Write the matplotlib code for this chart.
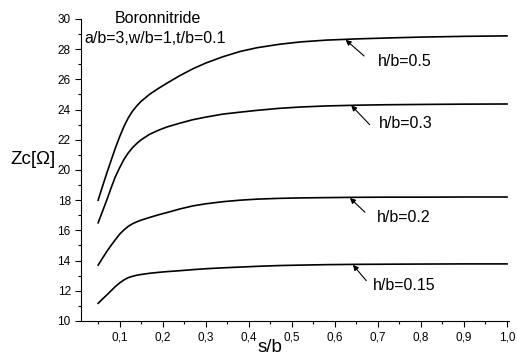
import matplotlib
matplotlib.use("Agg")
import matplotlib.pyplot as plt
from matplotlib.ticker import MultipleLocator, FuncFormatter

plt.rcParams['font.family'] = ['Liberation Sans', 'DejaVu Sans']

# s/b sample positions
s = [0.05, 0.06, 0.07, 0.08, 0.09, 0.10, 0.11, 0.12, 0.13, 0.14, 0.15, 0.17, 0.19,
     0.21, 0.24, 0.27, 0.30, 0.34, 0.38, 0.42, 0.47, 0.52, 0.58, 0.65, 0.72, 0.80,
     0.90, 1.00]

z_h050 = [18.0, 18.9, 19.78, 20.62, 21.45, 22.2, 22.88, 23.45, 23.9, 24.25, 24.55, 25.02,
          25.4, 25.75, 26.25, 26.7, 27.08, 27.5, 27.85, 28.1, 28.32, 28.48, 28.6,
          28.68, 28.74, 28.8, 28.85, 28.88]
z_h030 = [16.5, 17.25, 18.0, 18.8, 19.55, 20.15, 20.7, 21.13, 21.48, 21.76, 22.0, 22.37,
          22.63, 22.85, 23.1, 23.33, 23.5, 23.7, 23.83, 23.95, 24.08, 24.17, 24.24,
          24.29, 24.32, 24.34, 24.36, 24.37]
z_h020 = [13.7, 14.15, 14.6, 15.0, 15.38, 15.75, 16.03, 16.27, 16.44, 16.57, 16.68, 16.86,
          17.03, 17.18, 17.42, 17.62, 17.76, 17.9, 18.0, 18.07, 18.12, 18.15, 18.17,
          18.19, 18.2, 18.2, 18.21, 18.21]
z_h015 = [11.17, 11.45, 11.72, 12.0, 12.28, 12.52, 12.72, 12.87, 12.96, 13.03, 13.08,
          13.16, 13.22, 13.27, 13.33, 13.4, 13.46, 13.52, 13.57, 13.62, 13.67, 13.7,
          13.73, 13.75, 13.76, 13.77, 13.78, 13.78]

series = [z_h050, z_h030, z_h020, z_h015]
labels = ["h/b=0.5", "h/b=0.3", "h/b=0.2", "h/b=0.15"]
# arrow head (on curve), arrow tail and text positions
heads = [(0.625, 28.62), (0.638, 24.28), (0.635, 18.15), (0.642, 13.72)]
tails = [(0.668, 27.55), (0.681, 23.0), (0.67, 17.2), (0.673, 12.67)]
text_pos = [(0.701, 27.2), (0.703, 23.05), (0.697, 16.87), (0.689, 12.36)]

fig = plt.figure(figsize=(5.17, 3.58), dpi=100)
ax = fig.add_axes([0.157, 0.1034, 0.827, 0.8436])

for z in series:
    ax.plot(s, z, color='black', lw=1.2, solid_joinstyle='round')

for lab, hd, tl, tp in zip(labels, heads, tails, text_pos):
    ax.annotate("", xy=hd, xytext=tl,
                arrowprops=dict(arrowstyle='-|>', color='black', lw=0.8,
                                mutation_scale=8, shrinkA=0, shrinkB=0))
    ax.text(tp[0], tp[1], lab, fontsize=11.5, ha='left', va='center')

ax.text(0.189, 30.05, "Boronnitride", fontsize=11.5, ha='center', va='center')
ax.text(0.0176, 28.7, "a/b=3,w/b=1,t/b=0.1", fontsize=11.5, ha='left', va='center')

ax.set_xlim(0.0106, 1.004)
ax.set_ylim(10, 30)
ax.spines['top'].set_visible(False)
ax.spines['right'].set_visible(False)
ax.xaxis.set_major_locator(MultipleLocator(0.1))
ax.xaxis.set_minor_locator(MultipleLocator(0.05))
ax.yaxis.set_major_locator(MultipleLocator(2))
ax.yaxis.set_minor_locator(MultipleLocator(1))
ax.xaxis.set_major_formatter(FuncFormatter(lambda v, p: f"{v:.1f}".replace('.', ',')))
ax.tick_params(which='major', length=4, width=0.8, labelsize=8.5, direction='out')
ax.tick_params(which='minor', length=2, width=0.8, direction='out')

fig.text(10/517, 1 - 160/358, "Zc[\u03a9]", fontsize=13.5, ha='left', va='center')
fig.text(258/517, 1 - 348/358, "s/b", fontsize=13.5, ha='left', va='center')

fig.savefig("out.png", dpi=100)
